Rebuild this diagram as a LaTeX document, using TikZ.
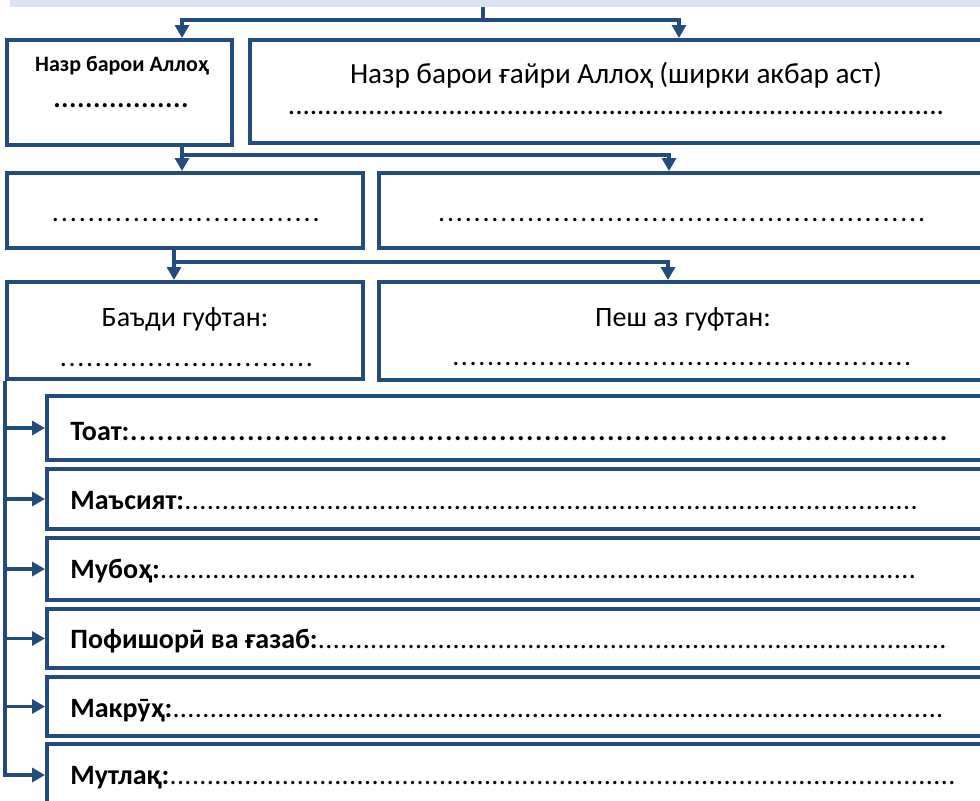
\documentclass[tikz,border=0pt]{standalone}
\usepackage{fontspec}
\setmainfont{Carlito}
\usetikzlibrary{arrows.meta}
\definecolor{boxblue}{HTML}{234B7E}
\definecolor{barblue}{HTML}{DAE3F3}
\newcommand\dotrow[2]{\foreach\k in {1,...,#1}{\hbox to #2pt{\hss.\hss}}}

\begin{document}
\begin{tikzpicture}[x=0.5pt,y=-0.5pt]
        \tikzset{>={Triangle[length=6.5pt,width=7pt]}}
        \tikzset{box/.style={draw=boxblue,line width=2pt,fill=white,inner sep=0pt},
                 link/.style={draw=boxblue,line width=1.9pt},
                 txt/.style={anchor=base,inner sep=0pt,font=\fontsize{14}{16}\selectfont},
                 row/.style={anchor=base west,inner sep=0pt,font=\fontsize{14}{16}\selectfont}}
        \clip (0,0) rectangle (980,800);
        \useasboundingbox (0,0) rectangle (980,800);
        % top bar
        \node[fill=barblue,inner sep=0pt,minimum width=490pt,minimum height=6pt] (bar) at (500,1) {};
        % boxes
        \node[box,minimum width=112.5pt,minimum height=52.5pt] (A) at (119.5,92.5) {};
        \node[box,minimum width=367pt,minimum height=51.5pt] (B) at (617,91.5) {};
        \node[box,minimum width=178pt,minimum height=37.5pt] (C) at (185,210.5) {};
        \node[box,minimum width=302.5pt,minimum height=37.5pt] (D) at (681.5,210.5) {};
        \node[box,minimum width=178pt,minimum height=48.5pt] (E) at (185,330.5) {};
        \node[box,minimum width=302.5pt,minimum height=49pt] (F) at (681.5,331) {};
        \node[box,minimum width=476.5pt,minimum height=32pt] (T1) at (523.5,428) {};
        \node[box,minimum width=476.5pt,minimum height=30pt] (T2) at (523.5,499) {};
        \node[box,minimum width=476.5pt,minimum height=31pt] (T3) at (523.5,569) {};
        \node[box,minimum width=476.5pt,minimum height=29.5pt] (T4) at (523.5,638.5) {};
        \node[box,minimum width=476.5pt,minimum height=29.5pt] (T5) at (523.5,706.5) {};
        \node[box,minimum width=476.5pt,minimum height=31pt] (T6) at (523.5,775) {};
        % texts
        \node[txt,font=\bfseries\fontsize{11}{13}\selectfont] (Atitle) at (122,71) {Назр барои Аллоҳ};
        \node[txt,font=\bfseries\fontsize{14}{16}\selectfont] (Adots) at (121,107) {\dotrow{17}{4}};
        \node[txt,font=\fontsize{14.6}{17}\selectfont] (Btitle) at (616,83) {Назр барои ғайри Аллоҳ (ширки акбар аст)};
        \node[txt,font=\fontsize{14.6}{17}\selectfont] (Bdots) at (616.5,114) {\dotrow{90}{3.65}};
        \node[txt] (Cdots) at (186,221) {\dotrow{30}{4.5}};
        \node[txt] (Ddots) at (682,221) {\dotrow{55}{4.45}};
        \node[txt] (Etitle) at (185,326) {Баъди гуфтан:};
        \node[txt] (Edots) at (186.5,366) {\dotrow{29}{4.4}};
        \node[txt] (Ftitle) at (683,326) {Пеш аз гуфтан:};
        \node[txt] (Fdots) at (682,365) {\dotrow{53}{4.35}};
        \node[row] (T1text) at (70,440) {\textbf{Тоат:\dotrow{91}{4.5}}};
        \node[row] (T2text) at (70,509) {\textbf{Маъсият:}\dotrow{98}{3.75}};
        \node[row] (T3text) at (70,578) {\textbf{Мубоҳ:}\dotrow{101}{3.75}};
        \node[row] (T4text) at (70,648) {\textbf{Пофишорӣ ва ғазаб:}\dotrow{84}{3.75}};
        \node[row] (T5text) at (70,717) {\textbf{Макрӯҳ:}\dotrow{103}{3.75}};
        \node[row] (T6text) at (70,784) {\textbf{Мутлақ:}\dotrow{105}{3.75}};
        % connectors
        \coordinate (j1) at (483,20);
        \coordinate (a1) at (182,20);
        \coordinate (b1) at (679,20);
        \draw[link] (bar.south -| j1) -- (j1);
        \draw[link,->] (j1) -| (A.north -| a1);
        \draw[link,->] (j1) -| (B.north -| b1);
        \coordinate (j2) at (182,155);
        \coordinate (d2) at (669,155);
        \draw[link,->] (A.south -| j2) -- (C.north -| j2);
        \draw[link,->] (A.south -| j2) -- (j2) -| (D.north -| d2);
        \coordinate (j3) at (174,262);
        \coordinate (f3) at (668,262);
        \draw[link,->] (C.south -| j3) -- (E.north -| j3);
        \draw[link,->] (C.south -| j3) -- (j3) -| (F.north -| f3);
        \draw[link,->] (E.south west) |- (T6.west);
        \foreach \t in {T1,T2,T3,T4,T5}
            \draw[link,->] (E.south west |- \t.west) -- (\t.west);
\end{tikzpicture}
\end{document}
